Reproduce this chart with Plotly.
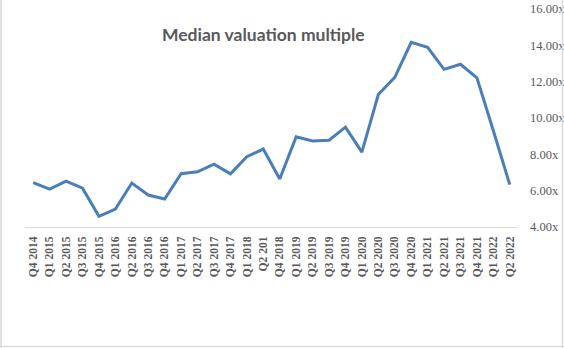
import plotly.graph_objects as go

# Quarter labels (as printed on the category axis)
quarters = [
    "Q4 2014", "Q1 2015", "Q2 2015", "Q3 2015", "Q4 2015",
    "Q1 2016", "Q2 2016", "Q3 2016", "Q4 2016",
    "Q1 2017", "Q2 2017", "Q3 2017", "Q4 2017",
    "Q1 2018", "Q2 201", "Q4 2018",
    "Q1 2019", "Q2 2019", "Q3 2019", "Q4 2019",
    "Q1 2020", "Q2 2020", "Q3 2020", "Q4 2020",
    "Q1 2021", "Q2 2021", "Q3 2021", "Q4 2021",
    "Q1 2022", "Q2 2022",
]

# Median valuation multiple per quarter
multiples = [
    6.44, 6.09, 6.53, 6.14, 4.59,
    4.99, 6.42, 5.76, 5.54,
    6.93, 7.04, 7.46, 6.93,
    7.87, 8.29, 6.64,
    8.96, 8.73, 8.78, 9.50,
    8.12, 11.29, 12.24, 14.17,
    13.89, 12.68, 12.96, 12.21,
    9.30, 6.33,
]

y_ticks = [4, 6, 8, 10, 12, 14, 16]

W, H = 564, 348
L, R, T, B = 25, 46, 9, 121
PW, PH = W - L - R, H - T - B

fig = go.Figure()
fig.add_trace(go.Scatter(
    x=quarters,
    y=multiples,
    mode="lines",
    line=dict(color="#4A7EBB", width=3),
    hoverinfo="x+y",
))

grey = "#595959"
frame = "#D9D9D9"

fig.update_layout(
    width=W,
    height=H,
    margin=dict(l=L, r=R, t=T, b=B, pad=0),
    paper_bgcolor="white",
    plot_bgcolor="white",
    showlegend=False,
    xaxis=dict(
        type="category",
        range=[-0.5, len(quarters) - 0.5],
        tickangle=-90,
        tickfont=dict(family="Liberation Serif", size=11.5, color=grey, weight="bold"),
        showgrid=False,
        showline=True,
        linecolor=frame,
        linewidth=1,
        ticks="",
        ticklabelstandoff=4,
        zeroline=False,
        automargin=False,
    ),
    yaxis=dict(
        side="right",
        range=[4, 16],
        tickvals=y_ticks,
        ticktext=[f"{v:.2f}x" for v in y_ticks],
        tickfont=dict(family="Liberation Serif", size=12.5, color=grey),
        showgrid=False,
        showline=False,
        zeroline=False,
        ticks="",
        ticklabelstandoff=11,
        automargin=False,
    ),
    annotations=[dict(
        text="<b>Median valuation multiple</b>",
        xref="paper", yref="paper",
        x=(263 - L) / PW,
        y=(H - B - 34) / PH,
        xanchor="center", yanchor="middle",
        showarrow=False,
        font=dict(family="Lato", size=17.5, color=grey),
    )],
    shapes=[
        # chart-area frame: left, right and bottom edges
        dict(type="line", xref="paper", yref="paper",
             x0=-(L - 1) / PW, x1=-(L - 1) / PW,
             y0=-B / PH, y1=1 + T / PH,
             line=dict(color=frame, width=1.5)),
        dict(type="line", xref="paper", yref="paper",
             x0=1 + (R - 1.5) / PW, x1=1 + (R - 1.5) / PW,
             y0=-B / PH, y1=1 + T / PH,
             line=dict(color=frame, width=1.5)),
        dict(type="line", xref="paper", yref="paper",
             x0=-L / PW, x1=1 + R / PW,
             y0=-(B - 1.5) / PH, y1=-(B - 1.5) / PH,
             line=dict(color=frame, width=1.5)),
    ],
)

fig.write_html("out.html")
